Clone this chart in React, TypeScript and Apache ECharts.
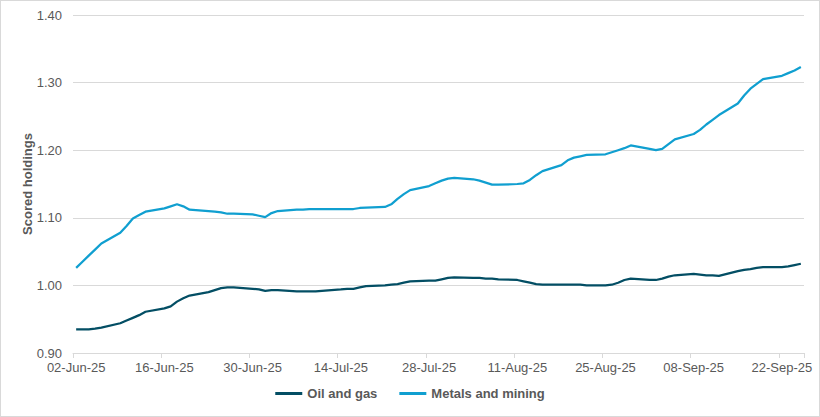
import React, { useEffect, useRef } from "react";
import * as echarts from "echarts";

// Trading days (weekdays) from 02-Jun-25 to 25-Sep-25
const startDate = "2025-06-02";
const endDate = "2025-09-25";

const seriesNames = ["Oil and gas", "Metals and mining"];

// One value per trading day, in order
const oilAndGas = [
  0.935, 0.935, 0.935, 0.936, 0.9376,
  0.944, 0.948, 0.952, 0.956, 0.961,
  0.966, 0.969, 0.976, 0.981, 0.985,
  0.990, 0.993, 0.996, 0.997, 0.997,
  0.995, 0.994, 0.992, 0.993, 0.993,
  0.991, 0.991, 0.991, 0.991, 0.992,
  0.994, 0.995, 0.995, 0.997, 0.999,
  1.000, 1.001, 1.002, 1.004, 1.006,
  1.007, 1.007, 1.009, 1.011, 1.012,
  1.011, 1.011, 1.010, 1.010, 1.009,
  1.008, 1.006, 1.004, 1.002, 1.001,
  1.001, 1.001, 1.001, 1.001, 1.000,
  1.000, 1.001, 1.004, 1.008, 1.010,
  1.008, 1.008, 1.010, 1.013, 1.015,
  1.017, 1.016, 1.015, 1.015, 1.014,
  1.021, 1.023, 1.024, 1.026, 1.027,
  1.027, 1.028, 1.030, 1.032,
];

const metalsAndMining = [
  1.026, 1.035, 1.044, 1.053, 1.062,
  1.078, 1.088, 1.099, 1.104, 1.109,
  1.114, 1.117, 1.120, 1.117, 1.112,
  1.110, 1.109, 1.108, 1.106, 1.106,
  1.105, 1.103, 1.101, 1.107, 1.110,
  1.112, 1.112, 1.113, 1.113, 1.113,
  1.113, 1.113, 1.113, 1.1145, 1.115,
  1.116, 1.120, 1.128, 1.135, 1.141,
  1.147, 1.151, 1.155, 1.158, 1.159,
  1.157, 1.155, 1.152, 1.149, 1.149,
  1.150, 1.151, 1.156, 1.163, 1.169,
  1.178, 1.185, 1.189, 1.191, 1.193,
  1.194, 1.197, 1.200, 1.203, 1.207,
  1.202, 1.200, 1.202, 1.209, 1.216,
  1.224, 1.230, 1.238, 1.245, 1.252,
  1.269, 1.281, 1.291, 1.298, 1.305,
  1.310, 1.314, 1.318, 1.323,
];

const yTicks = { min: 0.9, max: 1.4, interval: 0.1 };

const colors = ["#034e64", "#109fd0"];
const textColor = "#595959";
const gridColor = "#d9d9d9";
const font = "'Liberation Sans', Arial, sans-serif";

const MONTHS = ["Jan", "Feb", "Mar", "Apr", "May", "Jun", "Jul", "Aug", "Sep", "Oct", "Nov", "Dec"];

function buildCalendar() {
  const days: { label: string; trading: boolean }[] = [];
  const d = new Date(startDate + "T00:00:00Z");
  const end = new Date(endDate + "T00:00:00Z");
  while (d.getTime() <= end.getTime()) {
    const dd = String(d.getUTCDate()).padStart(2, "0");
    const lab = `${dd}-${MONTHS[d.getUTCMonth()]}-${String(d.getUTCFullYear()).slice(2)}`;
    const wd = d.getUTCDay();
    days.push({ label: lab, trading: wd !== 0 && wd !== 6 });
    d.setUTCDate(d.getUTCDate() + 1);
  }
  return days;
}

export default function App() {
  const ref = useRef<HTMLDivElement>(null);
  useEffect(() => {
    if (!ref.current) return;
    const chart = echarts.init(ref.current, null, { renderer: "svg" });
    const cal = buildCalendar();
    const mapSeries = (vals: number[]) => {
      let k = 0;
      return cal.map((c) => (c.trading ? (k < vals.length ? vals[k++] : null) : null));
    };
    const tickFn = (i: number) => i % 14 === 0;
    chart.setOption({
      animation: false,
      textStyle: { fontFamily: font },
      grid: { left: 73, right: 16, top: 15, bottom: 64, containLabel: false },
      legend: {
        bottom: 12,
        left: "center",
        itemGap: 22,
        itemWidth: 27,
        itemHeight: 3,
        icon: "rect",
        textStyle: { color: textColor, fontSize: 13, fontWeight: "bold", fontFamily: font },
        data: seriesNames,
      },
      xAxis: {
        type: "category",
        data: cal.map((c) => c.label),
        boundaryGap: true,
        axisLine: { show: true, lineStyle: { color: gridColor, width: 1 } },
        axisTick: { show: true, interval: tickFn, length: 5, lineStyle: { color: gridColor } },
        axisLabel: { interval: tickFn, color: textColor, fontSize: 13, margin: 8, fontFamily: font },
        splitLine: { show: false },
      },
      yAxis: {
        type: "value",
        min: yTicks.min,
        max: yTicks.max,
        interval: yTicks.interval,
        name: "Scored holdings",
        nameLocation: "middle",
        nameGap: 39,
        nameMoveOverlap: false,
        nameTextStyle: { color: textColor, fontSize: 13, fontWeight: "bold", fontFamily: font },
        axisLine: { show: false },
        axisTick: { show: false },
        axisLabel: { color: textColor, fontSize: 13, margin: 11, formatter: (v: number) => v.toFixed(2), fontFamily: font },
        splitLine: { lineStyle: { color: gridColor, width: 1 } },
      },
      series: [
        {
          name: seriesNames[0],
          type: "line",
          data: mapSeries(oilAndGas),
          connectNulls: true,
          showSymbol: false,
          symbol: "none",
          lineStyle: { color: colors[0], width: 2.25 },
          itemStyle: { color: colors[0] },
        },
        {
          name: seriesNames[1],
          type: "line",
          data: mapSeries(metalsAndMining),
          connectNulls: true,
          showSymbol: false,
          symbol: "none",
          lineStyle: { color: colors[1], width: 2.25 },
          itemStyle: { color: colors[1] },
        },
      ],
    });
    return () => chart.dispose();
  }, []);
  return (
    <div style={{ position: "fixed", left: 0, top: 0, width: 820, height: 417, background: "#fff" }}>
      <div ref={ref} style={{ width: 820, height: 417 }} />
      <div
        style={{
          position: "absolute",
          left: 0,
          top: 0,
          width: 820,
          height: 417,
          boxSizing: "border-box",
          border: "1px solid #d9d9d9",
          pointerEvents: "none",
        }}
      />
    </div>
  );
}
